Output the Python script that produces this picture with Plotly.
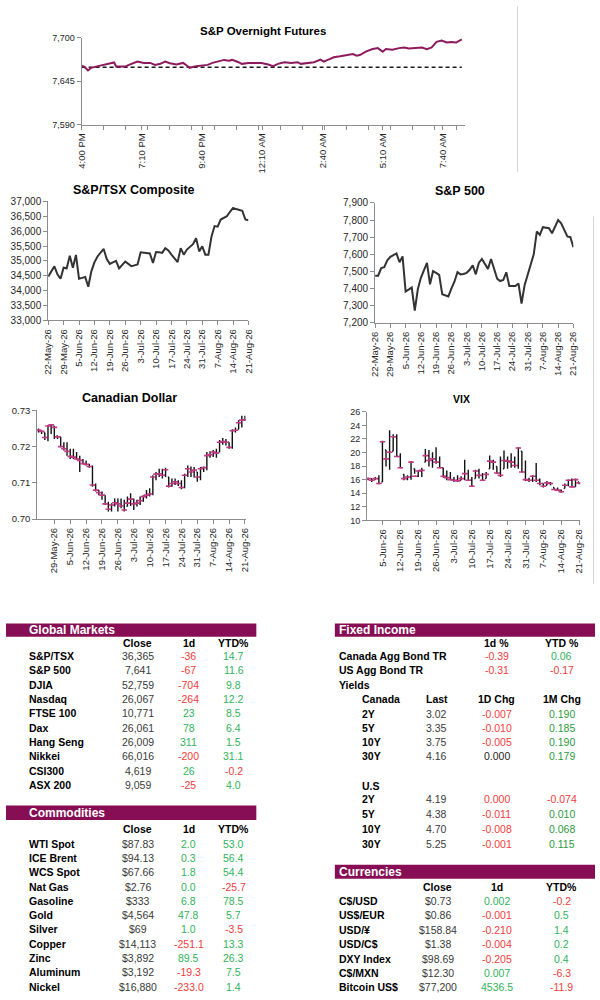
import plotly.graph_objects as go

# ---------------- data ----------------
# S&P overnight futures: position on the chart's time axis (minutes of axis after 4:00 PM) and level
fut_min = [0, 8, 16, 24, 41, 57, 73, 81, 86, 110, 118, 130, 139, 155, 171, 183, 196, 208, 220, 236,
           253, 265, 269, 285, 302, 314, 326, 342, 355, 367, 375, 391, 399, 416, 432, 448, 465, 477,
           489, 505, 522, 538, 546, 562, 579, 595, 603, 619, 628, 644, 660, 676, 685, 693, 709, 725,
           738, 750, 758, 774, 791, 803, 815, 831, 848, 860, 872, 884, 897, 909, 921, 933, 947]
fut_val = [7664.7, 7662.6, 7658.5, 7661.8, 7663.9, 7665.5, 7667.6, 7668.5, 7663.5, 7663.5, 7665.5,
           7668.0, 7669.7, 7668.0, 7668.0, 7665.5, 7666.8, 7669.7, 7667.6, 7666.0, 7668.0, 7663.5,
           7661.8, 7663.9, 7664.7, 7665.5, 7668.0, 7669.7, 7671.8, 7670.9, 7671.8, 7668.9, 7666.8,
           7668.0, 7667.6, 7668.0, 7666.0, 7663.9, 7666.8, 7668.9, 7668.0, 7668.9, 7666.8, 7668.0,
           7668.9, 7672.2, 7669.7, 7673.0, 7675.1, 7676.3, 7678.0, 7679.2, 7677.2, 7678.0, 7682.6,
           7685.5, 7686.7, 7682.2, 7685.5, 7684.6, 7686.7, 7687.5, 7686.3, 7687.1, 7687.5, 7685.5,
           7687.5, 7694.6, 7696.3, 7693.8, 7694.6, 7693.8, 7697.9]
fut_prev_close = 7662.6
fut_tick_min = [0, 150, 300, 450, 600, 750, 900]
fut_tick_txt = ["4:00 PM", "7:10 PM", "9:40 PM", "12:10 AM", "2:40 AM", "5:10 AM", "7:40 AM"]

days = ["2026-05-22", "2026-05-25", "2026-05-26", "2026-05-27", "2026-05-28", "2026-05-29",
        "2026-06-01", "2026-06-02", "2026-06-03", "2026-06-04", "2026-06-05",
        "2026-06-08", "2026-06-09", "2026-06-10", "2026-06-11", "2026-06-12",
        "2026-06-15", "2026-06-16", "2026-06-17", "2026-06-18", "2026-06-19",
        "2026-06-22", "2026-06-23", "2026-06-24", "2026-06-25", "2026-06-26",
        "2026-06-29", "2026-06-30", "2026-07-01", "2026-07-02", "2026-07-03",
        "2026-07-06", "2026-07-07", "2026-07-08", "2026-07-09", "2026-07-10",
        "2026-07-13", "2026-07-14", "2026-07-15", "2026-07-16", "2026-07-17",
        "2026-07-20", "2026-07-21", "2026-07-22", "2026-07-23", "2026-07-24",
        "2026-07-27", "2026-07-28", "2026-07-29", "2026-07-30", "2026-07-31",
        "2026-08-03", "2026-08-04", "2026-08-05", "2026-08-06", "2026-08-07",
        "2026-08-10", "2026-08-11", "2026-08-12", "2026-08-13", "2026-08-14",
        "2026-08-17", "2026-08-18", "2026-08-19", "2026-08-20", "2026-08-21"]
fridays = ["2026-05-22", "2026-05-29", "2026-06-05", "2026-06-12", "2026-06-19", "2026-06-26",
           "2026-07-03", "2026-07-10", "2026-07-17", "2026-07-24", "2026-07-31", "2026-08-07",
           "2026-08-14", "2026-08-21"]

tsx = [34470, 34650, 34820, 34550, 34400, 34770,
       34750, 35170, 34770, 35200, 34400,
       34430, 34460, 34130, 34650, 34950,
       35150, 35280, 35400, 35060, 34900,
       34950, 35000, 34750, 34850, 34980,
       34900, 34820, 34850, 34880, 35290,
       35280, 35260, 35250, 34930, 35300,
       35290, 35270, 35430, 35350, 35210,
       35080, 34960, 35430, 35210, 35380,
       35470, 35560, 35760, 35320, 35490,
       35210, 35210, 35820, 36170, 36150,
       36390, 36450, 36500, 36650, 36780,
       36740, 36700, 36680, 36390, 36365]

spx = [7475, 7475, 7520, 7525, 7565, 7585,
       7595, 7605, 7554, 7588, 7383,
       7395, 7406, 7271, 7396, 7463,
       7510, 7550, 7425, 7502, 7492,
       7480, 7367, 7360, 7354, 7400,
       7440, 7496, 7483, 7485, 7492,
       7510, 7535, 7483, 7550, 7573,
       7545, 7515, 7573, 7511, 7458,
       7444, 7450, 7495, 7415, 7415,
       7415, 7430, 7313, 7420, 7483,
       7540, 7600, 7733, 7713, 7758,
       7756, 7752, 7723, 7762, 7800,
       7781, 7742, 7704, 7700, 7641]

cad_high = [.7250, .7244, .7239, .7259, .7262, .7257,
            .7230, .7227, .7212, .7212, .7194,
            .7194, .7185, .7175, .7166, .7162,
            .7153, .7148, .7098, .7080, .7076,
            .7066, .7048, .7044, .7057, .7057,
            .7057, .7053, .7062, .7071, .7057,
            .7053, .7062, .7066, .7080, .7085,
            .7121, .7130, .7139, .7139, .7142,
            .7116, .7112, .7112, .7107, .7107,
            .7125, .7148, .7145, .7144, .7130,
            .7144, .7145, .7185, .7187, .7191,
            .7194, .7218, .7224, .7221, .7212,
            .7248, .7253, .7273, .7285, .7285]
cad_low = [.7239, .7235, .7218, .7215, .7235, .7221,
           .7221, .7198, .7189, .7175, .7166,
           .7166, .7164, .7130, .7151, .7148,
           .7142, .7089, .7076, .7066, .7053,
           .7039, .7021, .7021, .7035, .7021,
           .7030, .7021, .7035, .7036, .7025,
           .7035, .7039, .7048, .7057, .7062,
           .7066, .7107, .7116, .7112, .7116,
           .7087, .7089, .7094, .7091, .7082,
           .7085, .7116, .7116, .7115, .7103,
           .7107, .7130, .7135, .7169, .7171,
           .7169, .7185, .7205, .7203, .7194,
           .7194, .7239, .7248, .7253, .7271]
cad_close = [.7246, .7242, .7225, .7257, .7260, .7253,
             .7227, .7200, .7194, .7187, .7173,
             .7171, .7166, .7162, .7153, .7151,
             .7145, .7094, .7080, .7073, .7066,
             .7042, .7027, .7039, .7045, .7042,
             .7036, .7025, .7044, .7055, .7042,
             .7044, .7051, .7062, .7066, .7069,
             .7116, .7124, .7125, .7121, .7136,
             .7091, .7098, .7103, .7098, .7087,
             .7121, .7139, .7130, .7135, .7116,
             .7139, .7142, .7175, .7178, .7185,
             .7182, .7212, .7214, .7212, .7198,
             .7244, .7245, .7266, .7273, .7275]

vix_days = days[6:]
vix_high = [16.30, 16.16, 16.40, 16.64, 21.73, 20.38, 23.28, 22.70, 22.70, 19.89,
            16.79, 16.64, 18.73, 17.61, 17.37, 17.76, 20.52, 20.38, 20.04, 20.76,
            19.41, 17.76, 17.37, 17.13, 16.40, 16.64, 16.50, 18.92, 17.47, 16.40,
            17.47, 17.61, 16.98, 17.13, 19.55, 18.92, 17.95, 19.41, 20.28, 19.41,
            19.89, 19.41, 20.76, 20.18, 18.82, 16.30, 16.64, 18.44, 16.16, 15.43,
            15.82, 15.67, 14.85, 14.85, 14.56, 15.43, 16.01, 16.16, 16.16, 15.67]
vix_low = [15.92, 15.67, 16.01, 15.33, 15.67, 17.95, 17.47, 20.18, 19.41, 17.76,
           15.92, 15.92, 16.01, 16.89, 16.40, 16.40, 18.58, 17.95, 17.76, 18.34,
           17.76, 16.30, 15.92, 15.92, 15.67, 15.67, 15.92, 15.92, 15.92, 15.04,
           16.16, 16.16, 15.92, 16.16, 17.61, 17.47, 16.89, 16.40, 17.61, 17.61,
           17.76, 17.76, 17.61, 17.13, 15.82, 15.67, 15.67, 15.67, 15.19, 14.85,
           15.19, 15.19, 14.56, 14.36, 14.07, 14.70, 15.04, 14.85, 14.95, 15.33]
vix_close = [16.16, 15.92, 16.16, 15.43, 21.59, 19.07, 20.04, 22.32, 19.41, 17.76,
             16.16, 16.40, 18.58, 16.50, 17.27, 17.37, 19.55, 18.82, 19.07, 18.58,
             17.76, 16.50, 16.30, 16.01, 15.92, 15.82, 16.16, 16.89, 15.92, 15.04,
             17.27, 16.64, 15.92, 16.79, 18.73, 18.58, 16.98, 16.64, 18.82, 18.73,
             18.58, 18.10, 20.67, 17.13, 16.01, 15.92, 16.50, 15.92, 15.43, 15.04,
             15.53, 15.43, 14.56, 14.46, 14.22, 15.19, 15.92, 14.95, 16.01, 15.53]

# tables
gm_names = ["S&P/TSX", "S&P 500", "DJIA", "Nasdaq", "FTSE 100", "Dax", "Hang Seng", "Nikkei",
            "CSI300", "ASX 200"]
gm_close = [36365, 7641, 52759, 26067, 10771, 26061, 26009, 66016, 4619, 9059]
gm_1d = [-36, -67, -704, -264, 23, 78, 311, -200, 26, -25]
gm_ytd = [14.7, 11.6, 9.8, 12.2, 8.5, 6.4, 1.5, 31.1, -0.2, 4.0]

com_names = ["WTI Spot", "ICE Brent", "WCS Spot", "Nat Gas", "Gasoline", "Gold", "Silver",
             "Copper", "Zinc", "Aluminum", "Nickel"]
com_close = ["$87.83", "$94.13", "$67.66", "$2.76", "$333", "$4,564", "$69", "$14,113",
             "$3,892", "$3,192", "$16,880"]
com_1d = [2.0, 0.3, 1.8, 0.0, 6.8, 47.8, 1.0, -251.1, 89.5, -19.3, -233.0]
com_ytd = [53.0, 56.4, 54.4, -25.7, 78.5, 5.7, -3.5, 13.3, 26.3, 7.5, 1.4]

bond_names = ["Canada Agg Bond TR", "US Agg Bond TR"]
bond_1d = [-0.39, -0.31]
bond_ytd = [0.06, -0.17]
terms = ["2Y", "5Y", "10Y", "30Y"]
ca_last = [3.02, 3.35, 3.75, 4.16]
ca_1d = [-0.007, -0.010, -0.005, 0.000]
ca_1m = [0.190, 0.185, 0.190, 0.179]
us_last = [4.19, 4.38, 4.70, 5.25]
us_1d = [-0.0004, -0.011, -0.008, -0.001]
us_1m = [-0.074, 0.010, 0.068, 0.115]

cur_names = ["C$/USD", "US$/EUR", "USD/¥", "USD/C$", "DXY Index", "C$/MXN", "Bitcoin US$"]
cur_close = ["$0.73", "$0.86", "$158.84", "$1.38", "$98.69", "$12.30", "$77,200"]
cur_1d = ["0.002", "-0.001", "-0.210", "-0.004", "-0.205", "0.007", "4536.5"]
cur_ytd = [-0.2, 0.5, 1.4, 0.2, 0.4, -6.3, -11.9]

# ---------------- style ----------------
W, H = 600, 1000
FONT = "Arial, Liberation Sans, sans-serif"
MAROON = "#870E55"
FUT = "#8E1A5E"
PINK = "#C43A86"
RED = "#F23B3B"
GREEN = "#30B35C"
GREEN_DK = "#2E9A40"
VAL = "#3A3A3A"
TICK = "#262626"
AXIS = "#8C8C8C"


def px(x):
    return x / W


def py(y):
    return 1 - y / H


def sign_col(v, zero=VAL):
    return RED if v < 0 else (GREEN if v > 0 else zero)


def fmt(v, d):
    s = f"{v:.{d}f}"
    return s.lstrip("-") if float(s) == 0 else s


def axis(**kw):
    base = dict(showgrid=False, zeroline=False, showline=True, linecolor=AXIS, linewidth=1,
                ticks="outside", ticklen=4, tickcolor=AXIS, fixedrange=True,
                tickfont=dict(family=FONT, size=9.5, color=TICK))
    base.update(kw)
    return base


fig = go.Figure()

# futures
fig.add_trace(go.Scatter(x=[fut_min[0], fut_min[-1]], y=[fut_prev_close, fut_prev_close],
                         mode="lines", line=dict(color="#1a1a1a", width=1.6, dash="4px,3px"),
                         xaxis="x", yaxis="y", hoverinfo="skip"))
fig.add_trace(go.Scatter(x=fut_min, y=fut_val, mode="lines", line=dict(color=FUT, width=2),
                         xaxis="x", yaxis="y"))

# TSX and S&P 500
fig.add_trace(go.Scatter(x=days, y=tsx, mode="lines", line=dict(color="#333333", width=2),
                         xaxis="x2", yaxis="y2"))
fig.add_trace(go.Scatter(x=days, y=spx, mode="lines", line=dict(color="#333333", width=2),
                         xaxis="x3", yaxis="y3"))


def hlc(xs, hi, lo, cl, xa, ya):
    prev = [cl[0]] + cl[:-1]
    op = [min(max(p, l), h) for p, l, h in zip(prev, lo, hi)]
    line = dict(line=dict(color="#111111", width=1.4))
    fig.add_trace(go.Ohlc(x=xs, open=op, high=hi, low=lo, close=cl, increasing=line,
                          decreasing=line, tickwidth=0.3, xaxis=xa, yaxis=ya))
    fig.add_trace(go.Scatter(x=xs, y=cl, mode="markers", xaxis=xa, yaxis=ya,
                             marker=dict(symbol="line-ew", size=4,
                                         line=dict(color=PINK, width=1.6))))


hlc(days, cad_high, cad_low, cad_close, "x4", "y4")
hlc(vix_days, vix_high, vix_low, vix_close, "x5", "y5")

brk = [dict(bounds=["sat", "mon"])]
date_ticks = dict(tickformat="%-d-%b-%y", tickangle=-90, rangebreaks=brk,
                  rangeslider=dict(visible=False))

fig.update_layout(
    width=W, height=H, margin=dict(l=0, r=0, t=0, b=0),
    paper_bgcolor="white", plot_bgcolor="white", showlegend=False,
    font=dict(family=FONT, color=TICK),
    xaxis=axis(domain=[px(77), px(468)], anchor="y", range=[0, 956],
               tickvals=fut_tick_min, ticktext=fut_tick_txt, tickangle=-90,
               tickfont=dict(family=FONT, size=9.5, color=TICK),
               minor=dict(tick0=0, dtick=55, ticks="outside", ticklen=4, tickcolor=AXIS)),
    yaxis=axis(domain=[py(120), py(32)], anchor="x", range=[7590, 7700],
               tickvals=[7590, 7645, 7700], tickformat=",",
               tickfont=dict(family=FONT, size=9, color=TICK)),
    xaxis2=axis(domain=[px(43), px(247)], anchor="y2", range=[days[0], days[-1]],
                tickvals=fridays, **date_ticks),
    yaxis2=axis(domain=[py(318.3), py(197.7)], anchor="x2", range=[33000, 37000],
                dtick=500, tickformat=",", tickfont=dict(family=FONT, size=10, color=TICK)),
    xaxis3=axis(domain=[px(376), px(578)], anchor="y3", range=[days[0], days[-1]],
                tickvals=fridays, **date_ticks),
    yaxis3=axis(domain=[py(320.7), py(199.3)], anchor="x3", range=[7200, 7900],
                dtick=100, tickformat=",", tickfont=dict(family=FONT, size=10, color=TICK)),
    xaxis4=axis(domain=[px(31.7), px(244)], anchor="y4",
                range=["2026-05-21 14:00", "2026-08-21 04:00"],
                tickvals=fridays[1:], **date_ticks),
    yaxis4=axis(domain=[py(519.3), py(409.3)], anchor="x4", range=[0.70, 0.73],
                dtick=0.01, tickformat=".2f"),
    xaxis5=axis(domain=[px(367.7), px(585)], anchor="y5",
                range=["2026-05-29 16:00", "2026-08-21 08:00"],
                tickvals=fridays[2:], **date_ticks),
    yaxis5=axis(domain=[py(520.7), py(410.7)], anchor="x5", range=[10, 26], dtick=2,
                tickfont=dict(family=FONT, size=9, color=TICK)),
)

ann = []
shapes = []


def text(x, y, s, color="#000000", bold=False, size=10.5, anchor="left"):
    ann.append(dict(x=px(x), y=py(y), xref="paper", yref="paper", xanchor=anchor,
                    yanchor="middle", showarrow=False,
                    text=f"<b>{s}</b>" if bold else s,
                    font=dict(family=FONT, size=size, color=color)))


# chart titles
text(262, 25, "S&P Overnight Futures", bold=True, size=11.5, anchor="center")
text(130, 186, "S&P/TSX Composite", bold=True, size=12.5, anchor="center")
text(462, 187, "S&P 500", bold=True, size=12.5, anchor="center")
text(126, 397, "Canadian Dollar", bold=True, size=12.5, anchor="center")
text(464, 398, "VIX", bold=True, size=10.5, anchor="center")


def header_bar(x0, x1, y0, y1, label):
    shapes.append(dict(type="rect", xref="paper", yref="paper", x0=px(x0), x1=px(x1),
                       y0=py(y1), y1=py(y0), fillcolor=MAROON, line=dict(width=0)))
    text(x0 + 21 if x0 == 0 else x0 + 2, (y0 + y1) / 2, label, color="white", bold=True, size=12)


# Global Markets
header_bar(0, 255, 625, 638.3, "Global Markets")
for s, x in zip(["Close", "1d", "YTD%"], [134, 186, 232]):
    text(x, 645, s, bold=True, anchor="center")
for i, n in enumerate(gm_names):
    y = 658 + 14.5 * i
    text(21, y, n, bold=True)
    text(134, y, f"{gm_close[i]:,}", color=VAL, anchor="center")
    text(186, y, str(gm_1d[i]), color=sign_col(gm_1d[i]), anchor="center")
    text(232, y, f"{gm_ytd[i]:.1f}", color=sign_col(gm_ytd[i]), anchor="center")

# Commodities
header_bar(0, 255, 809.3, 824, "Commodities")
for s, x in zip(["Close", "1d", "YTD%"], [134, 186, 232]):
    text(x, 833.3, s, bold=True, anchor="center")
for i, n in enumerate(com_names):
    y = 847.7 + 14.5 * i
    text(21, y, n, bold=True)
    text(134, y, com_close[i], color=VAL, anchor="center")
    text(186, y, f"{com_1d[i]:.1f}", color=sign_col(com_1d[i], GREEN), anchor="center")
    text(232, y, f"{com_ytd[i]:.1f}", color=sign_col(com_ytd[i]), anchor="center")

# Fixed Income
header_bar(335, 600, 625, 638.3, "Fixed Income")
text(500, 645, "1d %", bold=True, anchor="center")
text(566, 645, "YTD %", bold=True, anchor="center")
for i, n in enumerate(bond_names):
    y = 658.3 + 13.4 * i
    text(337, y, n, bold=True)
    text(500, y, f"{bond_1d[i]:.2f}", color=sign_col(bond_1d[i]), anchor="center")
    text(566, y, f"{bond_ytd[i]:.2f}", color=sign_col(bond_ytd[i]), anchor="center")
text(337, 687.7, "Yields", bold=True)
text(361, 701.7, "Canada", bold=True)
for s, x in zip(["Last", "1D Chg", "1M Chg"], [439, 500, 566]):
    text(x, 701.7, s, bold=True, anchor="center")
for i, t in enumerate(terms):
    y = 716.7 + 14.2 * i
    text(361, y, t, bold=True)
    text(439, y, f"{ca_last[i]:.2f}", color=VAL, anchor="center")
    text(500, y, fmt(ca_1d[i], 3), color=sign_col(ca_1d[i], "#222222"), anchor="center")
    text(566, y, fmt(ca_1m[i], 3), color=RED if ca_1m[i] < 0 else GREEN_DK, anchor="center")
text(361, 789, "U.S", bold=True)
for i, t in enumerate(terms):
    y = 803 + 15 * i
    text(361, y, t, bold=True)
    text(439, y, f"{us_last[i]:.2f}", color=VAL, anchor="center")
    text(500, y, fmt(us_1d[i], 3), color=sign_col(us_1d[i], "#222222"), anchor="center")
    text(566, y, fmt(us_1m[i], 3), color=RED if us_1m[i] < 0 else GREEN_DK, anchor="center")

# Currencies
header_bar(335, 600, 869.3, 883.3, "Currencies")
for s, x in zip(["Close", "1d", "YTD%"], [440, 500, 566]):
    text(x, 891.7, s, bold=True, anchor="center")
for i, n in enumerate(cur_names):
    y = 905.7 + 14.6 * i
    text(337, y, n, bold=True)
    text(440, y, cur_close[i], color=VAL, anchor="center")
    text(500, y, cur_1d[i], color=sign_col(float(cur_1d[i])), anchor="center")
    text(566, y, f"{cur_ytd[i]:.1f}", color=sign_col(cur_ytd[i]), anchor="center")

# faint page edges from the source sheet
for x, y0, y1 in [(521, 0, 168), (598.5, 213, 585)]:
    shapes.append(dict(type="line", xref="paper", yref="paper", x0=px(x), x1=px(x),
                       y0=py(y1), y1=py(y0), line=dict(color="#D4D4D4", width=1)))

fig.update_layout(annotations=ann, shapes=shapes)
# drop the browser's default page margin so the 600x1000 figure fills the window exactly
fig.write_html("out.html", config={"displayModeBar": False},
               post_script="document.body.style.margin='0';document.body.style.overflow='hidden';")
